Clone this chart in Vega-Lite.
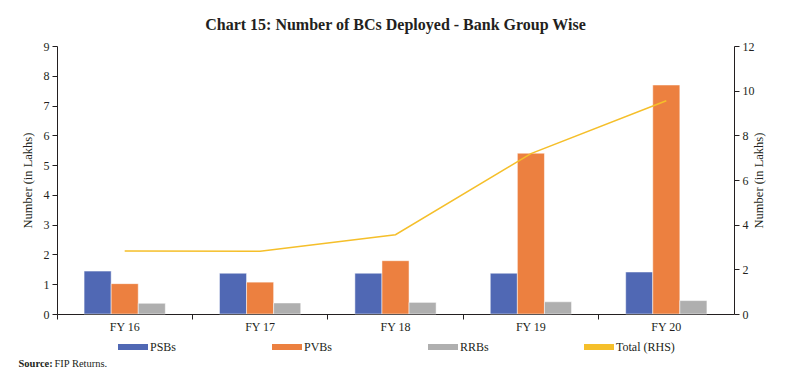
{
  "$schema": "https://vega.github.io/schema/vega-lite/v6.json",
  "width": 677,
  "height": 268,
  "autosize": {"type": "none"},
  "padding": {"left": 57, "top": 46, "right": 54, "bottom": 73},
  "background": "white",
  "title": {
    "text": "Chart 15: Number of BCs Deployed - Bank Group Wise",
    "font": "Liberation Serif",
    "fontSize": 16,
    "fontWeight": "bold",
    "color": "#231f20",
    "anchor": "middle",
    "offset": 7
  },
  "datasets": {
    "bars": [
      {"year": "FY 16", "series": "PSBs", "value": 1.44},
      {"year": "FY 16", "series": "PVBs", "value": 1.02},
      {"year": "FY 16", "series": "RRBs", "value": 0.36},
      {"year": "FY 17", "series": "PSBs", "value": 1.37},
      {"year": "FY 17", "series": "PVBs", "value": 1.07},
      {"year": "FY 17", "series": "RRBs", "value": 0.37},
      {"year": "FY 18", "series": "PSBs", "value": 1.37},
      {"year": "FY 18", "series": "PVBs", "value": 1.79},
      {"year": "FY 18", "series": "RRBs", "value": 0.39},
      {"year": "FY 19", "series": "PSBs", "value": 1.37},
      {"year": "FY 19", "series": "PVBs", "value": 5.40},
      {"year": "FY 19", "series": "RRBs", "value": 0.41},
      {"year": "FY 20", "series": "PSBs", "value": 1.41},
      {"year": "FY 20", "series": "PVBs", "value": 7.69},
      {"year": "FY 20", "series": "RRBs", "value": 0.45}
    ],
    "total": [
      {"year": "FY 16", "total": 2.82},
      {"year": "FY 17", "total": 2.81},
      {"year": "FY 18", "total": 3.55},
      {"year": "FY 19", "total": 7.18},
      {"year": "FY 20", "total": 9.55}
    ]
  },
  "layer": [
    {
      "data": {"name": "bars"},
      "mark": {"type": "bar", "stroke": "white", "strokeWidth": 0.5},
      "encoding": {
        "x": {
          "field": "year", "type": "nominal", "sort": null,
          "scale": {"paddingInner": 0, "paddingOuter": 0},
          "axis": {
            "title": "Source:",
            "titleFontWeight": "bold",
            "titleFontSize": 10.5,
            "titleAnchor": "start",
            "titleAlign": "left",
            "titleX": -39,
            "titleY": 49,
            "titleBaseline": "middle",
            "labelAngle": 0,
            "labelPadding": 2,
            "bandPosition": 0,
            "tickSize": 5
          }
        },
        "xOffset": {
          "field": "series", "type": "nominal", "sort": ["PSBs", "PVBs", "RRBs"],
          "scale": {"paddingInner": 0, "paddingOuter": 1.1}
        },
        "y": {
          "field": "value", "type": "quantitative",
          "scale": {"domain": [0, 9]},
          "axis": {
            "title": "Number (in Lakhs)",
            "values": [0, 1, 2, 3, 4, 5, 6, 7, 8, 9],
            "tickSize": 5,
            "labelPadding": 3,
            "titlePadding": 9
          }
        },
        "color": {
          "field": "series", "type": "nominal",
          "scale": {
            "domain": ["PSBs", "PVBs", "RRBs", "Total (RHS)"],
            "range": ["#5068B4", "#EC8040", "#AFAFAF", "#F5BF2A"]
          },
          "legend": {
            "orient": "none",
            "legendX": 61,
            "legendY": 286,
            "direction": "horizontal",
            "columns": 4,
            "columnPadding": 95,
            "title": null,
            "padding": 0,
            "labelFont": "Liberation Serif",
            "labelFontSize": 12,
            "labelColor": "#231f20",
            "labelOffset": 2,
            "symbolSize": 900,
            "symbolType": "M-1,-0.2H1V0.2H-1Z",
            "symbolStrokeWidth": 0,
            "encode": {
              "symbols": {
                "update": {
                  "shape": {"signal": "datum.value === 'Total (RHS)' ? 'M-1,-0.05H1V0.05H-1Z' : 'M-1,-0.2H1V0.2H-1Z'"},
                  "fill": {"scale": "color", "field": "value"},
                  "strokeWidth": {"value": 0},
                  "opacity": {"value": 1}
                }
              }
            }
          }
        }
      }
    },
    {
      "data": {"name": "total"},
      "mark": {"type": "line", "strokeWidth": 1.5},
      "encoding": {
        "x": {
          "field": "year", "type": "nominal", "sort": null,
          "axis": {
            "orient": "top",
            "domain": false,
            "ticks": false,
            "labels": false,
            "title": "FIP Returns.",
            "titleFontWeight": "normal",
            "titleFontSize": 10.5,
            "titleAnchor": "start",
            "titleAlign": "left",
            "titleX": -3,
            "titleY": 317,
            "titleBaseline": "middle"
          }
        },
        "y": {
          "field": "total", "type": "quantitative",
          "scale": {"domain": [0, 12]},
          "axis": {
            "orient": "right",
            "title": "Number (in Lakhs)",
            "values": [0, 2, 4, 6, 8, 10, 12],
            "tickSize": 5,
            "labelPadding": 3,
            "titleAngle": 270,
            "titlePadding": 11
          }
        },
        "color": {"datum": "Total (RHS)", "type": "nominal"}
      }
    }
  ],
  "resolve": {"scale": {"y": "independent"}, "axis": {"x": "independent"}},
  "config": {
    "view": {"stroke": null},
    "axis": {
      "labelFont": "Liberation Serif",
      "titleFont": "Liberation Serif",
      "labelColor": "#231f20",
      "titleColor": "#231f20",
      "domainColor": "#231f20",
      "tickColor": "#231f20",
      "grid": false,
      "labelFontSize": 12,
      "titleFontSize": 12.5,
      "titleFontWeight": "normal"
    }
  }
}
